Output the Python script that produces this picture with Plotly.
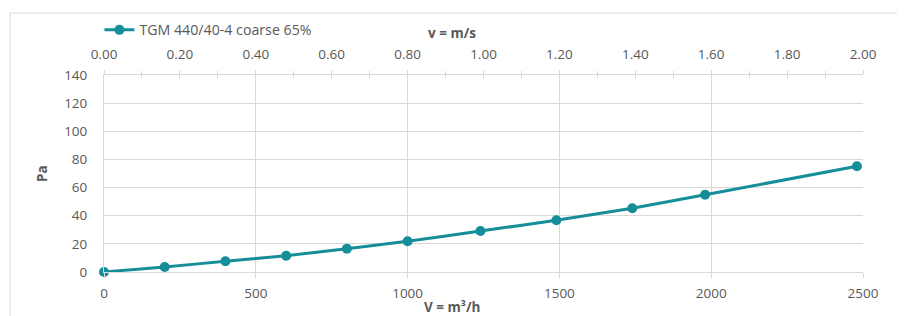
import plotly.graph_objects as go

series_name = "TGM 440/40-4 coarse 65%"
flow_m3h = [0, 200, 400, 600, 800, 1000, 1240, 1490, 1740, 1980, 2480]
pressure_pa = [0, 3.6, 7.6, 11.6, 16.6, 21.8, 29.1, 36.8, 45.3, 54.9, 75.1]
y_ticks = [0, 20, 40, 60, 80, 100, 120, 140]
x_ticks = [0, 500, 1000, 1500, 2000, 2500]
v_ticks = [0.0, 0.2, 0.4, 0.6, 0.8, 1.0, 1.2, 1.4, 1.6, 1.8, 2.0]

LINE = "#168E9A"
GRID = "#D9D9D9"
TXT = "#595959"
FONT = "Open Sans"
TICK_SIZE = 13.5

fig = go.Figure()
fig.add_trace(go.Scatter(
    x=flow_m3h, y=pressure_pa, mode="lines+markers", name=series_name,
    line=dict(color=LINE, width=3, shape="spline", smoothing=0.3),
    marker=dict(color=LINE, size=10), cliponaxis=False,
))
# invisible traces to activate the top axes
fig.add_trace(go.Scatter(x=[0, 2], y=[0, 0], xaxis="x2", mode="markers",
                         marker=dict(opacity=0), showlegend=False, hoverinfo="skip"))
fig.add_trace(go.Scatter(x=[0, 2], y=[0, 0], xaxis="x3", mode="markers",
                         marker=dict(opacity=0), showlegend=False, hoverinfo="skip"))

fig.update_layout(
    width=905, height=316,
    margin=dict(l=96, r=50, t=67, b=52, autoexpand=False),
    paper_bgcolor="white", plot_bgcolor="white",
    font=dict(family=FONT, size=12, color=TXT),
    showlegend=True,
    legend=dict(xref="container", yref="container", x=0.101, y=0.93,
                xanchor="left", yanchor="middle",
                orientation="h", font=dict(size=14.2, color=TXT),
                bgcolor="rgba(0,0,0,0)"),
    xaxis=dict(range=[0, 2500], tickvals=x_ticks, showgrid=True, gridcolor=GRID,
               gridwidth=1, zeroline=False, showline=True, linecolor=GRID,
               ticks="outside", ticklen=5, tickcolor=GRID, automargin=False,
               ticklabelstandoff=4,
               tickfont=dict(size=TICK_SIZE, color=TXT)),
    xaxis2=dict(range=[0, 2], overlaying="x", side="top", anchor="y",
                tickvals=v_ticks, ticktext=[f"{v:.2f}" for v in v_ticks],
                showgrid=False, zeroline=False, showline=True, linecolor=GRID,
                ticks="outside", ticklen=4, tickcolor=GRID, automargin=False,
                minor=dict(dtick=0.1, ticks="outside", ticklen=3, tickcolor=GRID),
                ticklabelstandoff=6,
                tickfont=dict(size=TICK_SIZE, color=TXT)),
    xaxis3=dict(range=[0, 2], overlaying="x", side="top", anchor="y",
                tickvals=v_ticks, showticklabels=False, automargin=False,
                showgrid=False, zeroline=False, showline=False,
                ticks="inside", ticklen=3, tickcolor=GRID,
                minor=dict(dtick=0.1, ticks="inside", ticklen=3, tickcolor=GRID)),
    yaxis=dict(range=[0, 140], tickvals=y_ticks, showgrid=True, gridcolor=GRID,
               gridwidth=1, zeroline=False, showline=True, linecolor=GRID,
               ticks="", automargin=False, ticklabelstandoff=13,
               tickfont=dict(size=TICK_SIZE, color=TXT)),
    shapes=[dict(type="rect", xref="paper", yref="paper",
                 x0=-0.1238, x1=1.07, y0=-0.25, y1=1.3147,
                 line=dict(color=GRID, width=1), fillcolor="rgba(0,0,0,0)",
                 layer="below")],
    annotations=[
        dict(text="<b>v = m/s</b>", xref="paper", yref="paper", x=0.459, y=1.213,
             xanchor="center", yanchor="middle", showarrow=False,
             font=dict(size=13.5, color=TXT)),
        dict(text="<b>V = m³/h</b>", xref="paper", yref="paper", x=0.459, y=-0.178,
             xanchor="center", yanchor="middle", showarrow=False,
             font=dict(size=13.5, color=TXT)),
        dict(text="<b>Pa</b>", xref="paper", yref="paper", x=-0.0817, y=0.503,
             xanchor="center", yanchor="middle", showarrow=False, textangle=-90,
             font=dict(size=13.5, color=TXT)),
    ],
)

fig.write_html("out.html")
